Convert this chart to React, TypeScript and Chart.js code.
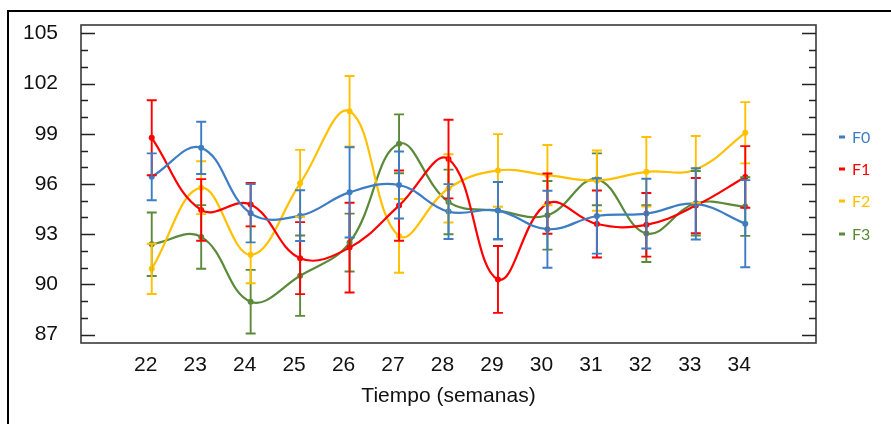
import React, { useEffect, useRef } from 'react';
import { Chart, registerables } from 'chart.js';

Chart.register(...registerables);

// ---- data ----
const weeks = [22, 23, 24, 25, 26, 27, 28, 29, 30, 31, 32, 33, 34];
const yTickLabels = [87, 90, 93, 96, 99, 102, 105];
const seriesNames = ['F0', 'F1', 'F2', 'F3'];

const f0 = [96.43, 98.16, 94.25, 94.11, 95.5, 95.94, 94.35, 94.41, 93.3, 94.09, 94.23, 94.81, 93.63];
const f0Err = [1.4, 1.56, 1.74, 1.52, 2.7, 2.0, 1.64, 1.71, 2.3, 2.25, 2.08, 2.13, 2.6];
const f1 = [98.76, 94.45, 94.77, 91.57, 92.2, 94.71, 97.49, 90.3, 94.83, 93.61, 93.56, 94.71, 96.42];
const f1Err = [2.24, 1.84, 1.3, 2.15, 2.68, 2.1, 2.35, 2.0, 1.8, 2.0, 1.9, 1.65, 1.84];
const f2 = [90.93, 95.78, 91.77, 96.04, 100.35, 92.9, 95.74, 96.81, 96.53, 96.2, 96.73, 96.87, 99.06];
const f2Err = [1.5, 1.58, 1.7, 2.0, 2.1, 2.2, 2.04, 2.17, 1.8, 1.8, 2.08, 2.0, 1.83];
const f3 = [92.4, 92.84, 88.97, 90.52, 92.5, 98.4, 94.93, 94.41, 94.13, 96.28, 93.04, 94.85, 94.65];
const f3Err = [1.9, 1.9, 1.9, 2.4, 1.73, 1.76, 1.93, 1.71, 2.05, 1.55, 1.7, 1.93, 1.75];

const seriesValues = [f0, f1, f2, f3];
const seriesErrors = [f0Err, f1Err, f2Err, f3Err];
const colors = ['#3d7dc3', '#ff0000', '#ffc000', '#5a8a3a'];

const AXIS_FONT = { family: '"Liberation Sans", Arial, sans-serif', size: 21 };

const decorPlugin = {
  id: 'decor',
  beforeDraw(chart: any) {
    const { ctx, width, height } = chart;
    ctx.save();
    ctx.fillStyle = '#ffffff';
    ctx.fillRect(0, 0, width, height);
    ctx.restore();
  },
  afterDatasetsDraw(chart: any) {
    const { ctx } = chart;
    const xs = chart.scales.x;
    const ys = chart.scales.y;
    ctx.save();
    ctx.lineWidth = 1.9;
    for (let s = seriesValues.length - 1; s >= 0; s--) {
      const vals = seriesValues[s];
      const errs = seriesErrors[s];
      ctx.strokeStyle = colors[s];
      for (let i = 0; i < weeks.length; i++) {
        const px = xs.getPixelForValue(weeks[i]);
        const top = ys.getPixelForValue(vals[i] + errs[i]);
        const bot = ys.getPixelForValue(vals[i] - errs[i]);
        ctx.beginPath();
        ctx.moveTo(px, top);
        ctx.lineTo(px, bot);
        ctx.moveTo(px - 5, top);
        ctx.lineTo(px + 5, top);
        ctx.moveTo(px - 5, bot);
        ctx.lineTo(px + 5, bot);
        ctx.stroke();
      }
    }
    ctx.restore();
  },
  afterDraw(chart: any) {
    const { ctx, chartArea } = chart;
    const { left, right, top, bottom } = chartArea;
    const ys = chart.scales.y;
    ctx.save();
    // outer frame
    ctx.strokeStyle = '#000000';
    ctx.lineWidth = 2;
    ctx.beginPath();
    ctx.moveTo(8, 430);
    ctx.lineTo(8, 11);
    ctx.lineTo(900, 11);
    ctx.stroke();
    // inner box
    ctx.strokeStyle = '#3a3a3a';
    ctx.lineWidth = 1.6;
    ctx.strokeRect(left, top, right - left, bottom - top);
    // inward ticks
    ctx.strokeStyle = '#222222';
    ctx.lineWidth = 1.5;
    for (let v = Math.ceil(ys.min); v <= ys.max; v += 1) {
      const py = Math.round(ys.getPixelForValue(v)) + 0.5;
      const major = yTickLabels.includes(v);
      const len = major ? 14 : 7;
      ctx.beginPath();
      ctx.moveTo(left, py);
      ctx.lineTo(left + len, py);
      ctx.moveTo(right, py);
      ctx.lineTo(right - len, py);
      ctx.stroke();
    }
    // legend
    ctx.font = '16px Lato, "Open Sans", sans-serif';
    ctx.textBaseline = 'middle';
    ctx.textAlign = 'left';
    const legendY = [137, 169, 201, 234];
    seriesNames.forEach((name, i) => {
      ctx.fillStyle = colors[i];
      ctx.fillRect(839, legendY[i] - 1.5, 6, 3);
      ctx.fillText(name, 852, legendY[i] + 0.5);
    });
    ctx.restore();
  },
};

export default function App() {
  const canvasRef = useRef<HTMLCanvasElement | null>(null);

  useEffect(() => {
    const canvas = canvasRef.current;
    if (!canvas) return;
    const chart = new Chart(canvas, {
      type: 'line',
      data: {
        datasets: seriesNames.map((name, s) => ({
          label: name,
          data: weeks.map((w, i) => ({ x: w, y: seriesValues[s][i] })),
          borderColor: colors[s],
          backgroundColor: colors[s],
          borderWidth: 2.2,
          pointRadius: 3,
          pointBorderWidth: 0,
          pointBackgroundColor: colors[s],
          tension: 0.4,
          fill: false,
        })),
      },
      options: {
        responsive: false,
        animation: false,
        layout: { padding: { left: 0, top: 25, right: 75, bottom: 0 } },
        plugins: { legend: { display: false }, tooltip: { enabled: false } },
        scales: {
          x: {
            type: 'linear',
            min: 20.57,
            max: 35.43,
            afterBuildTicks: (scale: any) => {
              scale.ticks = weeks.map((v) => ({ value: v }));
            },
            afterFit: (scale: any) => {
              scale.height = 81;
              scale.paddingLeft = 0;
              scale.paddingRight = 0;
            },
            grid: { display: false, drawTicks: false },
            border: { display: false },
            ticks: {
              font: AXIS_FONT,
              color: '#111111',
              padding: 10,
              labelOffset: -6,
              autoSkip: false,
              maxRotation: 0,
              callback: (v: any) => String(v),
            },
            title: {
              display: true,
              text: 'Tiempo (semanas)',
              font: AXIS_FONT,
              color: '#111111',
              padding: { top: 0, bottom: 15 },
            },
          },
          y: {
            type: 'linear',
            min: 86.5,
            max: 105.5,
            afterBuildTicks: (scale: any) => {
              scale.ticks = yTickLabels.map((v) => ({ value: v }));
            },
            afterFit: (scale: any) => {
              scale.width = 81;
              scale.paddingTop = 0;
              scale.paddingBottom = 0;
            },
            grid: { display: false, drawTicks: false },
            border: { display: false },
            ticks: {
              font: AXIS_FONT,
              color: '#111111',
              padding: 23,
              callback: (v: any) => String(v),
            },
          },
        },
      },
      plugins: [decorPlugin],
    });
    return () => chart.destroy();
  }, []);

  return (
    <div style={{ position: 'fixed', left: 0, top: 0, width: 891, height: 424, background: '#fff' }}>
      <canvas ref={canvasRef} width={891} height={424} style={{ display: 'block' }} />
    </div>
  );
}
